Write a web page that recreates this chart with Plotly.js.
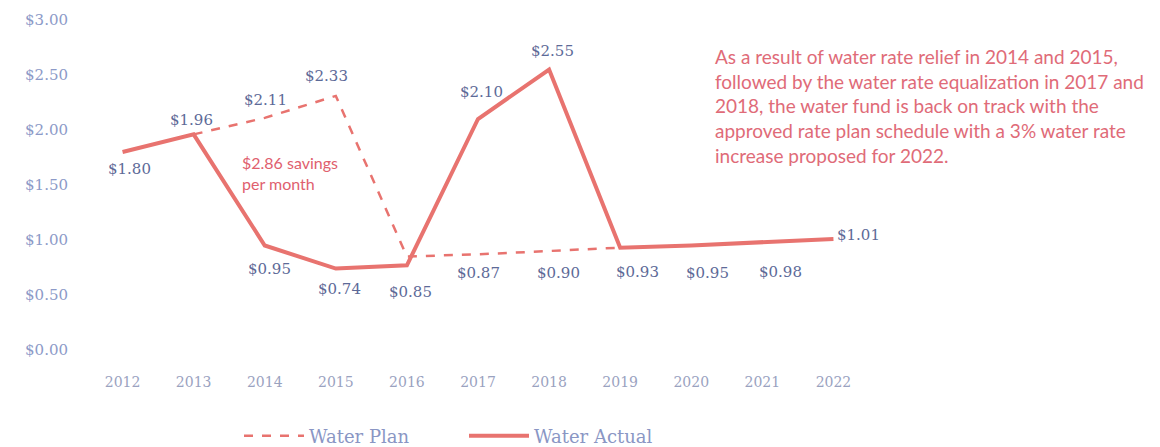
<!DOCTYPE html>
<html>
<head>
<meta charset="utf-8">
<script src="https://cdn.plot.ly/plotly-3.0.1.min.js"></script>
<style>html,body{margin:0;padding:0;background:#fff;}#chart{width:1160px;height:447px;}</style>
</head>
<body>
<div id="chart"></div>
<script>
// ---- data ----
const years = [2012, 2013, 2014, 2015, 2016, 2017, 2018, 2019, 2020, 2021, 2022];
const planYears = [2013, 2014, 2015, 2016, 2017, 2018, 2019];
const planValues = [1.96, 2.11, 2.31, 0.85, 0.87, 0.90, 0.93];
const actualValues = [1.80, 1.96, 0.95, 0.74, 0.77, 2.10, 2.55, 0.93, 0.95, 0.98, 1.01];
const actualLabels = ["$1.80", "$1.96", "$0.95", "$0.74", "$0.85", "$2.10", "$2.55", "$0.93", "$0.95", "$0.98", "$1.01"];
const planLabels = [null, "$2.11", "$2.33", null, "$0.87", "$0.90", null];
const savingsNote = "$2.86 savings<br>per month";
const noteText = "As a result of water rate relief in 2014 and 2015,<br>followed by the water rate equalization in 2017 and<br>2018, the water fund is back on track with the<br>approved rate plan schedule with a 3% water rate<br>increase proposed for 2022.";

// ---- label offsets (pixels), style only ----
const actualShift = [[7,-17],[-2,14],[5,-23],[4,-20],[4,-27],[3,27],[3,19],[17,-24],[16,-27],[18,-30],[25,4]];
const planShift = [null,[1,18],[-9,20],null,[0,-19],[9,-22],null];

const W = 1160, H = 447;
const M = {l: 87, r: 291, t: 20, b: 97};
const plotW = W - M.l - M.r, plotH = H - M.t - M.b;

const red = "#e8736f";
const serif = "DejaVu Serif, Liberation Serif, serif";
const labelFont = {family: serif, size: 15, color: "#5d6a98"};

const annotations = [];
actualValues.forEach((v, i) => {
  annotations.push({x: years[i], y: v, xref: "x", yref: "y", text: actualLabels[i], showarrow: false,
    xshift: actualShift[i][0], yshift: actualShift[i][1], font: labelFont});
});
planValues.forEach((v, i) => {
  if (!planLabels[i]) return;
  annotations.push({x: planYears[i], y: v, xref: "x", yref: "y", text: planLabels[i], showarrow: false,
    xshift: planShift[i][0], yshift: planShift[i][1], font: labelFont});
});
annotations.push({x: 2014.36, y: 1.61, xref: "x", yref: "y", text: savingsNote, showarrow: false, align: "left",
  font: {family: "Lato, Open Sans, sans-serif", size: 16, color: "#e0606e"}});
annotations.push({x: (713 - M.l) / plotW, y: (H - M.b - 43) / plotH, xref: "paper", yref: "paper",
  xanchor: "left", yanchor: "top", text: noteText, showarrow: false, align: "left",
  font: {family: "Lato, Open Sans, sans-serif", size: 19, color: "#e06b78"}});

const traces = [
  {x: planYears, y: planValues, name: "Water Plan", mode: "lines", type: "scatter",
   line: {color: red, width: 2.5, dash: "dash"}},
  {x: years, y: actualValues, name: "Water Actual", mode: "lines", type: "scatter",
   line: {color: red, width: 4}}
];

const layout = {
  width: W, height: H,
  margin: M,
  paper_bgcolor: "#fff", plot_bgcolor: "#fff",
  showlegend: true,
  legend: {orientation: "h", xref: "container", yref: "container", x: 239 / W, xanchor: "left",
    y: (H - 436) / H, yanchor: "middle", entrywidth: 150,
    font: {family: serif, size: 18, color: "#8a96c4"}, itemwidth: 60},
  xaxis: {type: "linear", range: [2011.5, 2022.5], tickvals: years, ticktext: years.map(String),
    showgrid: false, zeroline: false, showline: false, ticks: "", ticklabelstandoff: 22,
    tickfont: {family: serif, size: 14, color: "#9aa2bf"}},
  yaxis: {range: [0, 3], dtick: 0.5, tickprefix: "$", tickformat: ".2f",
    showgrid: false, zeroline: false, showline: false, ticks: "", ticklabelstandoff: 18,
    tickfont: {family: serif, size: 15, color: "#8c9ac8"}},
  annotations: annotations
};

Plotly.newPlot("chart", traces, layout, {displayModeBar: false, staticPlot: true});
</script>
</body>
</html>
